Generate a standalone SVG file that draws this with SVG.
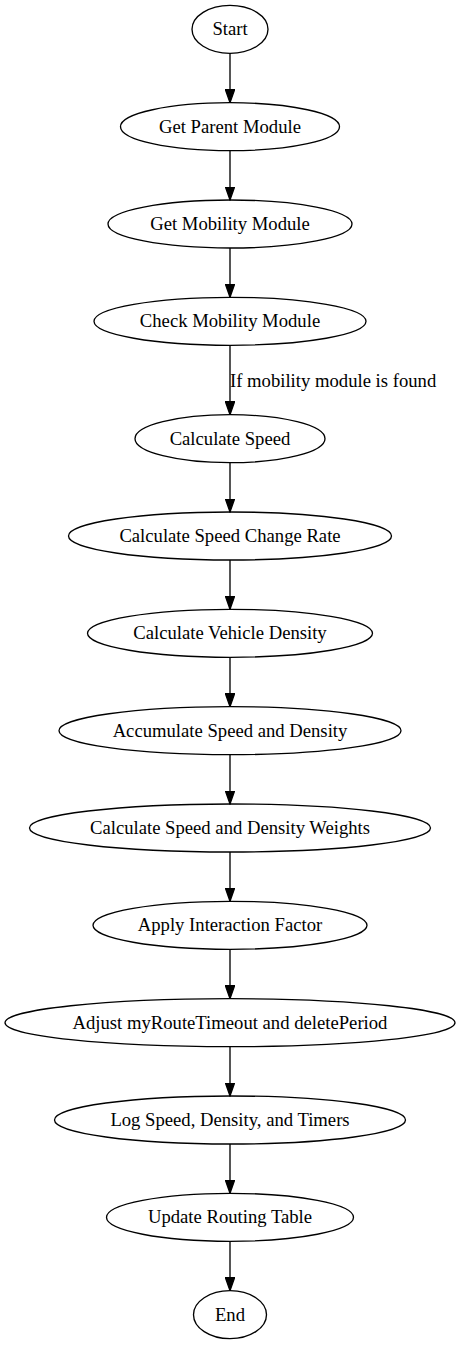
<svg xmlns="http://www.w3.org/2000/svg" width="460" height="1345" viewBox="0 0 460 1345">
<defs>
<marker id="ah" markerWidth="14" markerHeight="10" refX="13.3" refY="4.67" orient="auto" markerUnits="userSpaceOnUse">
<path d="M0,0 L13.3,4.67 L0,9.33 Z" fill="#000" stroke="#000" stroke-width="1.3"/>
</marker>
</defs>
<style>
.n ellipse{fill:none;stroke:#000;stroke-width:1.33}
.n text,.lbl{font-family:"Liberation Serif","Times New Roman",serif;font-size:18.67px;fill:#000}
.n text{text-anchor:middle}
.e line{stroke:#000;stroke-width:1.33;marker-end:url(#ah)}
</style>
<rect width="460" height="1345" fill="#fff"/>
<g class="e" id="edges">
<line x1="230" y1="53.3" x2="230" y2="102.7"/>
<line x1="230" y1="150.7" x2="230" y2="200"/>
<line x1="230" y1="248" x2="230" y2="297.3"/>
<line x1="230" y1="345.3" x2="230" y2="414.7"/>
<line x1="230" y1="462.7" x2="230" y2="512"/>
<line x1="230" y1="560" x2="230" y2="609.3"/>
<line x1="230" y1="657.3" x2="230" y2="706.7"/>
<line x1="230" y1="754.7" x2="230" y2="804"/>
<line x1="230" y1="852" x2="230" y2="901.3"/>
<line x1="230" y1="949.3" x2="230" y2="998.7"/>
<line x1="230" y1="1046.7" x2="230" y2="1096"/>
<line x1="230" y1="1144" x2="230" y2="1193.3"/>
<line x1="230" y1="1241.3" x2="230" y2="1290.7"/>
<text class="lbl" x="230" y="387">If mobility module is found</text>
</g>
<g class="n" id="start"><ellipse cx="230" cy="29.3" rx="38" ry="24"/><text x="230" y="35.3">Start</text></g>
<g class="n" id="getParent"><ellipse cx="230" cy="126.7" rx="109.5" ry="24"/><text x="230" y="132.7">Get Parent Module</text></g>
<g class="n" id="getMobility"><ellipse cx="230" cy="224" rx="122" ry="24"/><text x="230" y="230">Get Mobility Module</text></g>
<g class="n" id="checkMobility"><ellipse cx="230" cy="321.3" rx="136" ry="24"/><text x="230" y="327.3">Check Mobility Module</text></g>
<g class="n" id="calcSpeed"><ellipse cx="230" cy="438.7" rx="95" ry="24"/><text x="230" y="444.7">Calculate Speed</text></g>
<g class="n" id="calcRate"><ellipse cx="230" cy="536" rx="161.5" ry="24"/><text x="230" y="542">Calculate Speed Change Rate</text></g>
<g class="n" id="calcDensity"><ellipse cx="230" cy="633.3" rx="142.5" ry="24"/><text x="230" y="639.3">Calculate Vehicle Density</text></g>
<g class="n" id="accumulate"><ellipse cx="230" cy="730.7" rx="171" ry="24"/><text x="230" y="736.7">Accumulate Speed and Density</text></g>
<g class="n" id="weights"><ellipse cx="230" cy="828" rx="200.5" ry="24"/><text x="230" y="834">Calculate Speed and Density Weights</text></g>
<g class="n" id="interaction"><ellipse cx="230" cy="925.3" rx="137" ry="24"/><text x="230" y="931.3">Apply Interaction Factor</text></g>
<g class="n" id="adjust"><ellipse cx="230" cy="1022.7" rx="225" ry="24"/><text x="230" y="1028.7">Adjust myRouteTimeout and deletePeriod</text></g>
<g class="n" id="log"><ellipse cx="230" cy="1120" rx="175.5" ry="24"/><text x="230" y="1126">Log Speed, Density, and Timers</text></g>
<g class="n" id="update"><ellipse cx="230" cy="1217.3" rx="123.5" ry="24"/><text x="230" y="1223.3">Update Routing Table</text></g>
<g class="n" id="end"><ellipse cx="230" cy="1314.7" rx="36.5" ry="24"/><text x="230" y="1320.7">End</text></g>
</svg>
